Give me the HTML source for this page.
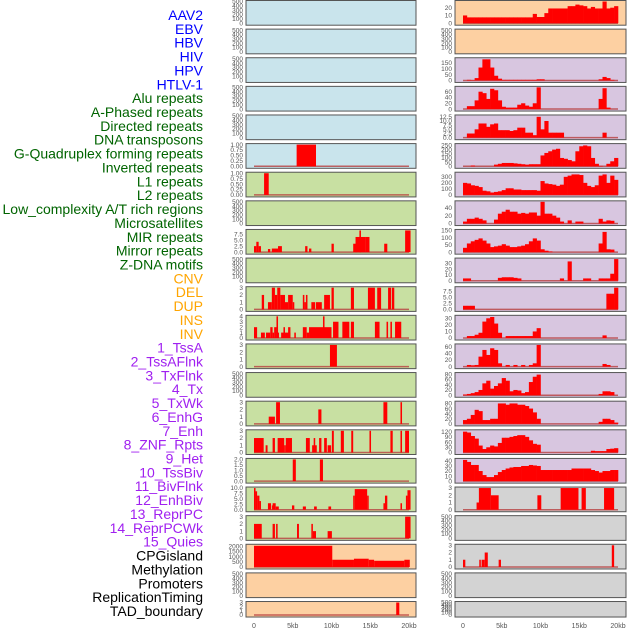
<!DOCTYPE html>
<html><head><meta charset="utf-8">
<style>
body{margin:0;background:#fff;width:630px;height:630px;overflow:hidden}
svg{display:block}
</style></head>
<body>
<svg id="chart" width="630" height="630" xmlns="http://www.w3.org/2000/svg" font-family="Liberation Sans, sans-serif"></svg>
<script>
// ---- data (kb positions / values) ----
const labels = ["AAV2","EBV","HBV","HIV","HPV","HTLV-1","Alu repeats","A-Phased repeats","Directed repeats","DNA transposons","G-Quadruplex forming repeats","Inverted repeats","L1 repeats","L2 repeats","Low_complexity A/T rich regions","Microsatellites","MIR repeats","Mirror repeats","Z-DNA motifs","CNV","DEL","DUP","INS","INV","1_TssA","2_TssAFlnk","3_TxFlnk","4_Tx","5_TxWk","6_EnhG","7_Enh","8_ZNF_Rpts","9_Het","10_TssBiv","11_BivFlnk","12_EnhBiv","13_ReprPC","14_ReprPCWk","15_Quies","CPGisland","Methylation","Promoters","ReplicationTiming","TAD_boundary"];
const groups = ["virus","virus","virus","virus","virus","virus","rep","rep","rep","rep","rep","rep","rep","rep","rep","rep","rep","rep","rep","sv","sv","sv","sv","sv","chrom","chrom","chrom","chrom","chrom","chrom","chrom","chrom","chrom","chrom","chrom","chrom","chrom","chrom","chrom","other","other","other","other","other"];
const xTickLabels = ["0","5kb","10kb","15kb","20kb"];
const xTickValues = [0,5,10,15,20];
const binWidth = 0.5;

const segHTLV = [[5.5,8.0,1]];
const segAlu = [[1.3,1.9,1]];
const segDirected = [[0,0.3,2.5],[0.3,0.6,4.3],[0.6,0.9,2.5],[1.8,2.1,1.3],[2.3,3.1,1.5],[3.1,3.6,2.5],[6.6,6.9,2.5],[7.1,7.4,1.5],[10.0,10.3,3.5],[12.8,13.3,3.5],[13.1,14.4,6.3],[13.6,13.8,9],[14.4,14.9,6.3],[16.8,17.2,3.5],[19.5,20.2,9]];
const segGQuad = [[1.0,1.3,2],[1.8,2.3,1],[2.3,2.7,3],[2.7,3.0,2],[3.0,3.4,3],[3.4,4.0,2],[4.0,4.4,1],[4.4,5.0,2],[5.0,5.2,1],[6.3,6.5,2],[6.5,6.7,1],[6.7,6.9,2],[7.4,7.9,1],[8.0,8.75,1],[9.05,9.8,2],[10.0,10.3,3],[12.5,12.9,3],[14.7,15.6,3],[15.9,16.4,3],[17.3,17.7,3],[17.8,18.1,3]];
const segInverted = [[0,0.4,2],[0.9,1.4,1],[1.55,2.1,1],[2.1,2.4,2],[2.4,2.6,1],[2.6,2.9,2],[2.9,3.1,4],[3.1,3.2,1],[3.5,4.7,1],[3.8,4.0,2],[4.4,4.7,2],[5.2,5.4,1],[6.3,6.8,2],[6.8,7.1,1],[7.1,10.0,2],[8.9,9.1,4],[9.4,10.0,1],[10.2,10.9,3],[11.4,12.3,3],[12.5,12.9,3],[15.6,16.2,3],[17.1,17.3,3],[17.6,17.8,3],[18.2,19.0,3]];
const segL1 = [[9.8,10.7,3]];
const segLowComplex = [[1.9,2.7,1],[2.85,3.35,3],[8.3,8.7,2],[16.7,17.2,3],[18.9,19.1,3]];
const segMicrosat = [[0,1.25,2],[1.5,1.75,1],[2.4,2.7,2],[3.05,3.9,2],[3.9,4.1,1],[4.1,4.9,2],[6.7,7.2,2],[7.5,8.1,1],[7.7,7.9,2],[8.4,8.7,2],[9.05,9.4,2],[9.5,9.95,1],[10.05,10.3,3],[11.2,11.6,3],[12.55,12.8,3],[14.9,15.1,3],[17.6,17.9,3],[18.9,19.1,3],[19.5,20.0,3]];
const segMIR = [[5.0,5.4,2],[8.5,8.9,2]];
const segMirror = [[0,0.2,10],[0.2,0.4,8.5],[0.4,0.7,6.5],[0.7,0.9,4],[1.8,2.2,3],[2.3,2.4,2],[2.4,2.8,3],[2.8,3.2,1.5],[4.9,5.2,2],[6.3,6.7,1.5],[7.75,8.1,1.5],[9.6,9.95,1.5],[12.8,13.0,6.5],[13.0,14.6,9.5],[14.6,14.8,6.5],[16.7,16.9,3],[16.9,17.2,6.5],[18.9,19.1,3],[19.6,19.8,6.5],[19.8,20.2,9]];
const segZDNA = [[0,1.0,2],[2.4,2.7,2],[2.85,3.05,2],[5.55,5.8,2],[7.4,7.6,2],[7.6,8.0,1],[9.5,10.05,1],[19.5,20.2,3]];
const segCNV = [[0,10.1,2050],[10.1,12.9,700],[12.9,14.8,800],[14.8,15.5,700],[15.5,19.4,600],[19.4,20.1,700]];
const segDUP = [[18.35,18.75,3]];
const binsINS = [10,7.5,7.5,7.5,7.5,7.5,7.5,7.5,7.5,7.5,7.5,7.5,7.5,7.5,7.5,7.5,7.5,7.5,12,8,8,13,19,19,19,19,19,22,22,24,23,22,19,21,19,19,28,19,20,22];
const binsTssA = [0,5,3,20,110,180,180,110,40,15,5,5,5,5,5,5,5,5,5,10,10,0,0,0,0,0,0,0,0,0,0,0,0,0,0,10,30,20,5,0];
const binsTssAFlnk = [0,10,10,30,60,55,35,70,65,30,8,5,5,5,15,20,12,8,20,75,0,0,0,0,0,0,0,0,0,0,0,0,0,0,0,35,72,5,0,0];
const binsTxFlnk = [0,2.5,2.5,5,8.5,8.5,6.5,8,8.5,4.5,4.5,4.5,4,4.5,6,6,3,3,1.5,12.5,5,10,3,3,3,3,0,0,0,0,0,0,0,0,0,0,3,0,0,0];
const binsTx = [0,0,10,0,0,0,0,0,20,30,40,40,40,35,30,25,20,25,25,25,130,160,180,200,210,100,90,75,60,180,240,250,240,100,30,5,0,30,60,100];
const binsTxWk = [200,190,160,150,130,70,60,40,50,60,80,110,110,90,90,80,80,80,80,70,230,190,180,170,150,170,300,320,340,340,330,200,150,130,160,320,340,200,320,250];
const binsEnhG = [5,12,12,15,12,8,0,0,10,25,30,35,30,30,25,27,25,28,28,20,55,25,25,20,15,5,0,8,0,5,5,0,0,0,0,12,5,8,7,0];
const binsEnh = [30,60,75,85,95,80,60,35,40,45,55,45,35,35,40,45,55,75,95,80,20,10,5,0,0,0,0,0,0,0,0,0,0,0,0,60,140,20,18,0];
const binsZNF = [4,4,0,0,0,0,0,0,0,5,6,6,6,5,4,0,0,0,0,0,0,0,0,0,0,4,0,33,0,0,0,4,4,0,0,4,4,4,12,37];
const binsHet = [1.5,1.5,1.5,0,0,0,0,0,0,0,0,0,0,0,0,0,0,0,0,0,0,0,0,0,0,0,0,0,0,0,0,0,0,0,0,0,0,6.5,6.5,9];
const binsTssBiv = [0,3,3,5,8,25,30,32,22,8,0,3,3,3,3,3,3,3,10,15,0,0,0,0,0,0,0,0,0,0,0,0,0,0,0,0,4,0,0,0];
const binsBivFlnk = [0,5,4,5,30,50,35,55,50,10,0,5,0,5,0,5,0,5,10,65,0,0,0,0,0,0,0,0,0,0,0,0,0,0,0,0,8,5,0,0];
const binsEnhBiv = [3,5,8,12,20,45,55,25,35,45,65,55,15,20,18,8,12,50,70,78,0,0,0,0,0,0,0,0,0,0,0,0,0,0,0,5,15,15,12,0];
const binsReprPC = [15,20,35,55,50,15,15,20,20,80,80,75,80,80,75,75,70,60,45,20,0,0,0,0,0,0,0,0,0,0,0,0,0,0,0,8,20,20,15,5];
const binsReprPCWk = [120,115,95,80,40,20,30,40,35,55,85,85,90,95,100,100,90,70,50,45,0,0,0,0,0,0,0,0,0,0,0,0,0,10,8,8,8,20,22,25];
const binsQuies = [42,38,32,32,20,12,8,8,12,18,22,25,27,28,28,30,30,32,31,30,22,22,22,22,22,22,22,22,25,25,25,25,25,22,20,17,20,20,22,22];
const segCPG = [[1.75,2.1,1],[2.05,3.6,3],[3.6,4.6,2],[9.6,10.1,2],[12.6,14.9,3],[15.3,15.85,3],[18.2,19.5,3]];
const segPromoters = [[0,0.3,1],[2.1,2.3,1],[2.4,2.8,1],[2.8,3.2,2],[4.6,4.9,1],[19.2,19.5,3]];

const T500 = ["0","100","200","300","400","500"];
const T1 = ["0.00","0.25","0.50","0.75","1.00"];
const T3 = ["0","1","2","3"];
const T4 = ["0","1","2","3","4"];
const T75 = ["0.0","2.5","5.0","7.5"];
const T2 = ["0.0","0.5","1.0","1.5","2.0"];
const T10 = ["0.0","2.5","5.0","7.5","10.0"];
const T2000 = ["0","500","1000","1500","2000"];
const T20 = ["0","10","20"];
const T150 = ["0","50","100","150"];
const T60 = ["0","20","40","60"];
const T125 = ["0.0","2.5","5.0","7.5","10.0","12.5"];
const T250 = ["0","50","100","150","200","250"];
const T300 = ["0","100","200","300"];
const T40 = ["0","20","40"];
const T30 = ["0","10","20","30"];
const T80 = ["0","20","40","60","80"];
const T120 = ["0","30","60","90","120"];
const T40b = ["0","10","20","30","40"];

// [segments, bins, yMax, ticks]
const panels = [
 [null,null,500,T500],[null,null,500,T500],[null,null,500,T500],[null,null,500,T500],[null,null,500,T500],
 [segHTLV,null,1,T1],[segAlu,null,1,T1],[null,null,500,T500],[segDirected,null,9,T75],[null,null,500,T500],
 [segGQuad,null,3,T3],[segInverted,null,4,T4],[segL1,null,3,T3],[null,null,500,T500],[segLowComplex,null,3,T3],
 [segMicrosat,null,3,T3],[segMIR,null,2,T2],[segMirror,null,10,T10],[segZDNA,null,3,T3],[segCNV,null,2100,T2000],
 [null,null,500,T500],[segDUP,null,3,T3],
 [null,binsINS,28,T20],[null,null,500,T500],[null,binsTssA,185,T150],[null,binsTssAFlnk,75,T60],[null,binsTxFlnk,13,T125],
 [null,binsTx,260,T250],[null,binsTxWk,360,T300],[null,binsEnhG,55,T40],[null,binsEnh,150,T150],[null,binsZNF,37,T30],
 [null,binsHet,9,T75],[null,binsTssBiv,33,T30],[null,binsBivFlnk,65,T60],[null,binsEnhBiv,82,T80],[null,binsReprPC,85,T80],
 [null,binsReprPCWk,125,T120],[null,binsQuies,43,T40b],[segCPG,null,3,T3],[null,null,500,T500],[segPromoters,null,3,T3],
 [null,null,500,T500],[null,null,500,T500]
];

const bgColors = {virus:"#c9e4ec",rep:"#c8e0a2",sv:"#fdd0a2",chrom:"#d8c6e0",other:"#d3d3d3"};
const labelColors = {virus:"#0000ff",rep:"#006400",sv:"#ffa500",chrom:"#a020f0",other:"#000000"};

const NS = "http://www.w3.org/2000/svg";
const svg = document.getElementById('chart');
function mk(tag, attrs, parent){
  const e = document.createElementNS(NS, tag);
  for (const k in attrs) e.setAttribute(k, attrs[k]);
  (parent||svg).appendChild(e);
  return e;
}

// labels
labels.forEach((t,i)=>{
  const el = mk('text',{x:203,y:15+i*13.86+5,'text-anchor':'end','font-size':14,fill:labelColors[groups[i]]});
  
  
  el.textContent = t;
});

const colX = [246,455], colW = [170,171];
function rowTop(r){ return 0.5 + r*28.62; }
function rowH(r){ return r===21 ? 15.5 : 24.7; }

panels.forEach((p,i)=>{
  const col = i<22 ? 0 : 1, row = i%22;
  const px = colX[col], pw = colW[col], py = rowTop(row), ph = rowH(row);
  const g = mk('g',{});
  
  
  const bg = mk('rect',{x:px,y:py,width:pw,height:ph,fill:bgColors[groups[i]]},g);
  
  
  const segs = p[0], bins = p[1], M = p[2], ticks = p[3];
  const xs = kb => px + 8 + kb*7.75;
  const y0 = py + ph - 2;
  const ys = v => y0 - v/M*(ph-3);
  // y ticks
  ticks.forEach(t=>{
    const v = parseFloat(t);
    const tk = mk('text',{x:px-3,y:ys(v)+2.2,'text-anchor':'end','font-size':6.5,fill:'#555'},g);
    
    
    tk.textContent = t;
  });
  if (segs || bins){
    const base = mk('line',{x1:xs(0),x2:xs(20),y1:y0,y2:y0,stroke:'#b84040','stroke-width':1.5,opacity:0.8},g);
    
    
  }
  if (segs){
    segs.forEach(s=>{
      const b = mk('rect',{x:xs(s[0]),y:ys(s[2]),width:Math.max(1,xs(s[1])-xs(s[0])),height:y0-ys(s[2]),fill:'#ff0000'},g);
      
      
    });
  }
  if (bins){
    bins.forEach((v,k)=>{
      if (v<=0) return;
      const b = mk('rect',{x:xs(k*binWidth),y:ys(v),width:xs((k+1)*binWidth)-xs(k*binWidth)+0.3,height:y0-ys(v),fill:'#ff0000'},g);
      
      
    });
  }
  const fr = mk('rect',{x:px,y:py,width:pw,height:ph,fill:'none',stroke:'#555','stroke-width':1},g);
  
  
});

// x axes
[0,1].forEach(col=>{
  xTickValues.forEach((v,k)=>{
    const t = mk('text',{x:colX[col]+8+v*7.75,y:628,'text-anchor':'middle','font-size':7,fill:'#555'});
    
    
    t.textContent = xTickLabels[k];
  });
});
</script>
</body></html>
